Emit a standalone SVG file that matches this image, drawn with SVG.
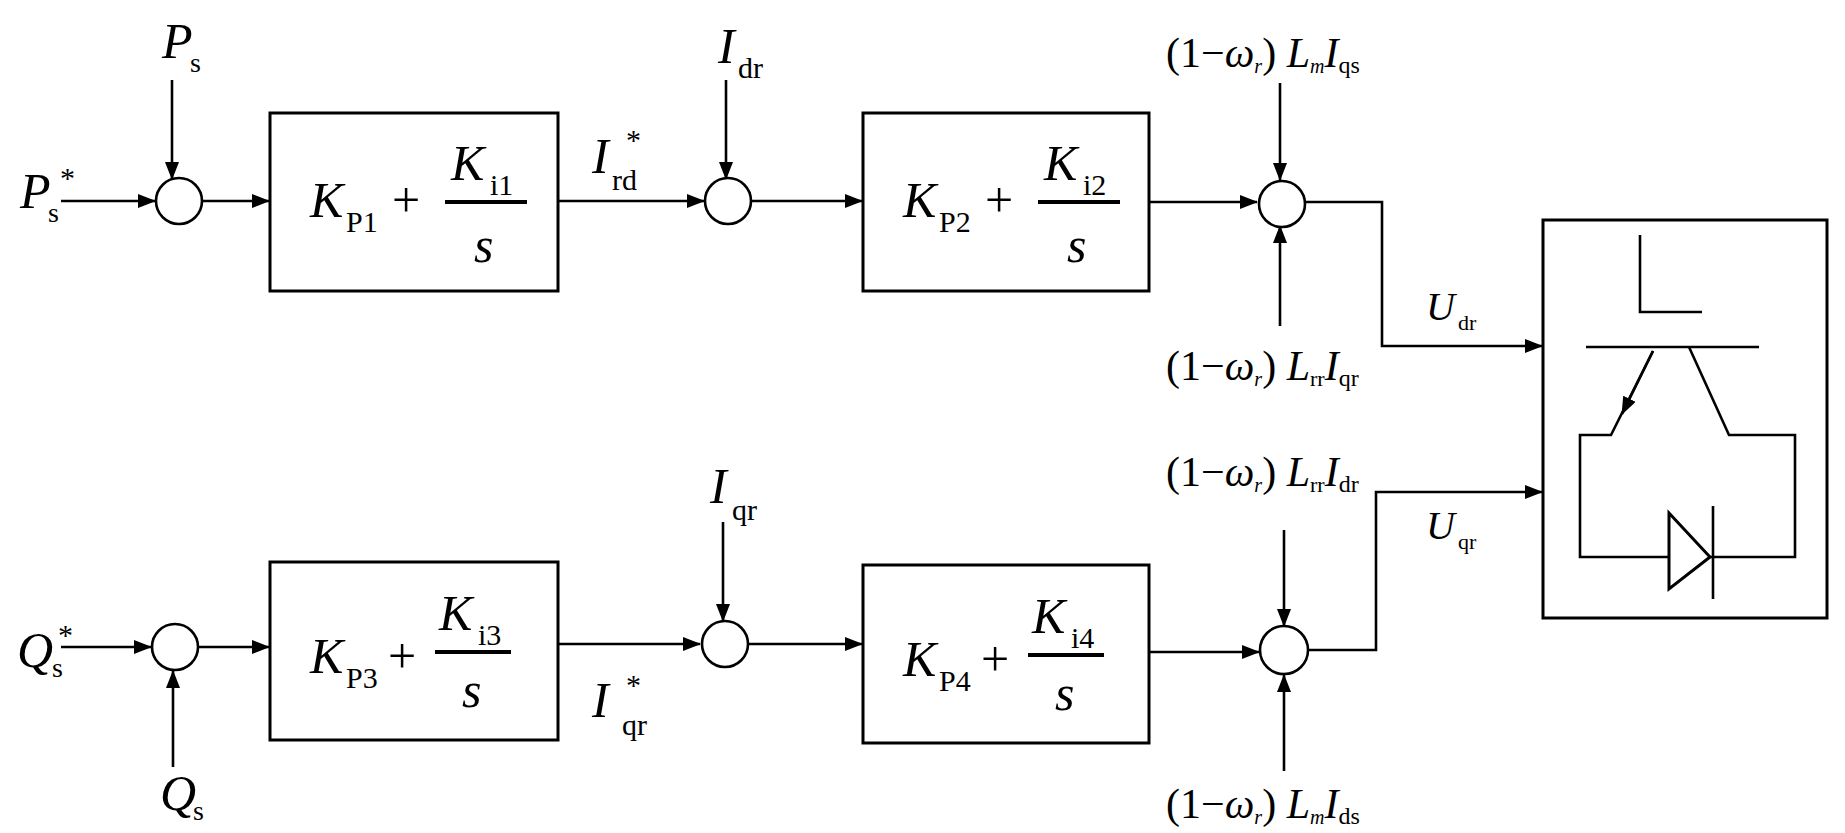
<svg xmlns="http://www.w3.org/2000/svg" width="1845" height="833" viewBox="0 0 1845 833">
<style>
.l{stroke:#000;stroke-width:2.6;fill:none}
.b{stroke:#000;stroke-width:3;fill:#fff}
.c{stroke:#000;stroke-width:2.6;fill:#fff}
text{font-family:"Liberation Serif","Times New Roman",serif;fill:#000}
.i{font-style:italic}
</style>
<defs>
<marker id="a" markerUnits="userSpaceOnUse" markerWidth="18" markerHeight="14" refX="17" refY="7" orient="auto"><path d="M0,0 L18,7 L0,14 Z" fill="#000"/></marker>
</defs>
<rect width="1845" height="833" fill="#fff"/>
<g id="connectors">
<path class="l" d="M61,201 H155" marker-end="url(#a)"/>
<path class="l" d="M172,80 V179" marker-end="url(#a)"/>
<path class="l" d="M202,201 H269" marker-end="url(#a)"/>
<path class="l" d="M558,201 H704" marker-end="url(#a)"/>
<path class="l" d="M726,80 V179" marker-end="url(#a)"/>
<path class="l" d="M751,201 H862" marker-end="url(#a)"/>
<path class="l" d="M1149,202 H1257" marker-end="url(#a)"/>
<path class="l" d="M1280,83 V180" marker-end="url(#a)"/>
<path class="l" d="M1280,326 V226" marker-end="url(#a)"/>
<path class="l" d="M1305,202 H1382 V346 H1542" marker-end="url(#a)"/>
<path class="l" d="M61,647 H151" marker-end="url(#a)"/>
<path class="l" d="M173,767 V671" marker-end="url(#a)"/>
<path class="l" d="M198,647 H269" marker-end="url(#a)"/>
<path class="l" d="M558,644 H700" marker-end="url(#a)"/>
<path class="l" d="M723,522 V621" marker-end="url(#a)"/>
<path class="l" d="M748,644 H862" marker-end="url(#a)"/>
<path class="l" d="M1149,652 H1259" marker-end="url(#a)"/>
<path class="l" d="M1284,530 V626" marker-end="url(#a)"/>
<path class="l" d="M1284,771 V675" marker-end="url(#a)"/>
<path class="l" d="M1308,650 H1376 V492 H1542" marker-end="url(#a)"/>
</g>
<g id="sum1"><ellipse class="c" cx="179" cy="201" rx="23" ry="23"/></g>
<g id="sum2"><ellipse class="c" cx="728" cy="201" rx="23" ry="23"/></g>
<g id="sum3"><ellipse class="c" cx="1282" cy="204" rx="23" ry="23"/></g>
<g id="sum6"><ellipse class="c" cx="175" cy="647" rx="23" ry="23"/></g>
<g id="sum4"><ellipse class="c" cx="725" cy="644" rx="23" ry="23"/></g>
<g id="sum5"><ellipse class="c" cx="1284" cy="650" rx="24" ry="24"/></g>
<g id="pi1"><rect class="b" x="270" y="113" width="288" height="178"/>
<text x="310" y="217" font-size="50" class="i">K</text><text x="346" y="232" font-size="30">P1</text>
<text x="392" y="217" font-size="50">+</text>
<line x1="445" y1="202" x2="527" y2="202" stroke="#000" stroke-width="4"/>
<text x="451" y="180" font-size="50" class="i">K</text><text x="490" y="195" font-size="30">i1</text>
<text x="474" y="262" font-size="50" class="i">s</text></g>
<g id="pi2"><rect class="b" x="863" y="113" width="286" height="178"/>
<text x="903" y="217" font-size="50" class="i">K</text><text x="939" y="232" font-size="30">P2</text>
<text x="985" y="217" font-size="50">+</text>
<line x1="1038" y1="202" x2="1120" y2="202" stroke="#000" stroke-width="4"/>
<text x="1044" y="180" font-size="50" class="i">K</text><text x="1083" y="195" font-size="30">i2</text>
<text x="1067" y="262" font-size="50" class="i">s</text></g>
<g id="pi3"><rect class="b" x="270" y="562" width="288" height="178"/>
<text x="310" y="673" font-size="50" class="i">K</text><text x="346" y="688" font-size="30">P3</text>
<text x="388" y="673" font-size="50">+</text>
<line x1="435" y1="652" x2="511" y2="652" stroke="#000" stroke-width="4"/>
<text x="439" y="630" font-size="50" class="i">K</text><text x="478" y="645" font-size="30">i3</text>
<text x="462" y="707" font-size="50" class="i">s</text></g>
<g id="pi4"><rect class="b" x="863" y="565" width="286" height="178"/>
<text x="903" y="676" font-size="50" class="i">K</text><text x="939" y="691" font-size="30">P4</text>
<text x="981" y="676" font-size="50">+</text>
<line x1="1028" y1="655" x2="1104" y2="655" stroke="#000" stroke-width="4"/>
<text x="1032" y="633" font-size="50" class="i">K</text><text x="1071" y="648" font-size="30">i4</text>
<text x="1055" y="710" font-size="50" class="i">s</text></g>
<g id="labels">
<text x="20" y="208" font-size="50" class="i">P</text><text x="48" y="222" font-size="28">s</text><text x="60" y="188" font-size="30">*</text>
<text x="162" y="58" font-size="50" class="i">P</text><text x="190" y="72" font-size="28">s</text>
<text x="592" y="173" font-size="50" class="i">I</text><text x="612" y="190" font-size="30">rd</text><text x="626" y="150" font-size="30">*</text>
<text x="718" y="63" font-size="50" class="i">I</text><text x="738" y="78" font-size="30">dr</text>
<text x="17" y="667" font-size="50" class="i">Q</text><text x="52" y="677" font-size="28">s</text><text x="58" y="645" font-size="30">*</text>
<text x="160" y="810" font-size="50" class="i">Q</text><text x="193" y="820" font-size="28">s</text>
<text x="710" y="503" font-size="50" class="i">I</text><text x="732" y="520" font-size="30">qr</text>
<text x="592" y="717" font-size="50" class="i">I</text><text x="622" y="735" font-size="30">qr</text><text x="626" y="695" font-size="30">*</text>
<text x="1426" y="320" font-size="40" class="i">U</text><text x="1458" y="330" font-size="22">dr</text>
<text x="1426" y="539" font-size="40" class="i">U</text><text x="1458" y="549" font-size="22">qr</text>
<text x="1166" y="67" font-size="42">(1−<tspan class="i">ω</tspan><tspan font-size="20" class="i" dy="6">r</tspan><tspan dy="-6">) </tspan><tspan class="i">L</tspan><tspan font-size="20" class="i" dy="6">m</tspan><tspan class="i" dy="-6">I</tspan><tspan font-size="24" dy="6">qs</tspan></text>
<text x="1166" y="380" font-size="42">(1−<tspan class="i">ω</tspan><tspan font-size="20" class="i" dy="6">r</tspan><tspan dy="-6">) </tspan><tspan class="i">L</tspan><tspan font-size="22" dy="6">rr</tspan><tspan class="i" dy="-6">I</tspan><tspan font-size="24" dy="6">qr</tspan></text>
<text x="1166" y="486" font-size="42">(1−<tspan class="i">ω</tspan><tspan font-size="20" class="i" dy="6">r</tspan><tspan dy="-6">) </tspan><tspan class="i">L</tspan><tspan font-size="22" dy="6">rr</tspan><tspan class="i" dy="-6">I</tspan><tspan font-size="24" dy="6">dr</tspan></text>
<text x="1166" y="818" font-size="42">(1−<tspan class="i">ω</tspan><tspan font-size="20" class="i" dy="6">r</tspan><tspan dy="-6">) </tspan><tspan class="i">L</tspan><tspan font-size="20" class="i" dy="6">m</tspan><tspan class="i" dy="-6">I</tspan><tspan font-size="24" dy="6">ds</tspan></text>
</g>
<g id="converter">
<rect class="b" x="1543" y="220" width="284" height="398"/>
<path class="l" d="M1640,235 V312 H1702"/>
<path class="l" d="M1586,347 H1759"/>
<path class="l" d="M1653,351 L1611,435 H1580 V557 H1795 V435 H1729 L1689,347"/>
<path class="l" d="M1653,351 L1622,414" marker-end="url(#a)"/>
<path class="b" d="M1669,513 L1710,557 L1669,589 Z"/>
<path class="l" d="M1713,506 V599"/>
</g>
</svg>
